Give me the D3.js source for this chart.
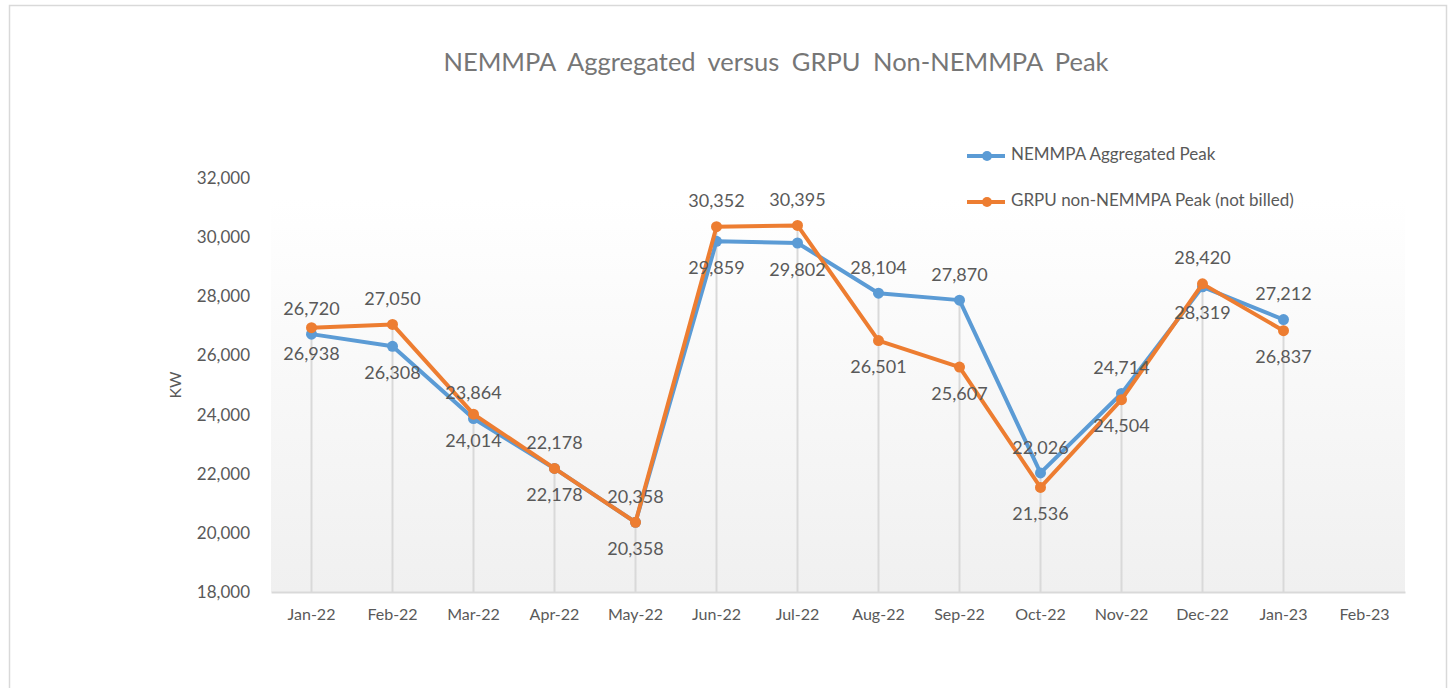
<!DOCTYPE html>
<html>
<head>
<meta charset="utf-8">
<script src="https://cdn.jsdelivr.net/npm/d3@7"></script>
<style>
  html, body { margin: 0; padding: 0; background: #fff; }
  svg { display: block; }
  text { font-family: Lato, "Open Sans", "Liberation Sans", sans-serif; fill: #595959; }
</style>
</head>
<body>
<svg id="chart" width="1455" height="688"></svg>
<script>
// ---- data ----
const categories = ["Jan-22","Feb-22","Mar-22","Apr-22","May-22","Jun-22","Jul-22","Aug-22","Sep-22","Oct-22","Nov-22","Dec-22","Jan-23","Feb-23"];
const nemmpaPeak = [26720, 26308, 23864, 22178, 20358, 29859, 29802, 28104, 27870, 22026, 24714, 28319, 27212];
const grpuPeak   = [26938, 27050, 24014, 22178, 20358, 30352, 30395, 26501, 25607, 21536, 24504, 28420, 26837];
const yTicks = [18000, 20000, 22000, 24000, 26000, 28000, 30000, 32000];
const seriesNames = ["NEMMPA Aggregated Peak", "GRPU non-NEMMPA Peak (not billed)"];
const chartTitle = "NEMMPA Aggregated versus GRPU Non-NEMMPA Peak";
const yAxisTitle = "KW";
// label placement per point for the blue series ("a" above / "b" below); orange takes the opposite
const bluePlacement = ["a","b","a","a","a","b","b","a","a","a","a","b","a"];

const colors = ["#5b9bd5", "#ed7d31"];
const svg = d3.select("#chart");

// outer chart border
svg.append("rect").attr("x", 9.5).attr("y", 5.5).attr("width", 1437).attr("height", 700)
  .attr("fill", "#fff").attr("stroke", "#d9d9d9").attr("stroke-width", 1.5);

const plot = { left: 271, right: 1405, top: 199, bottom: 592 };

const x = d3.scaleBand().domain(categories).range([plot.left, plot.right]);
const y = d3.scaleLinear().domain([18000, 32000]).range([592, 178]);
const cx = c => x(c) + x.bandwidth() / 2;

// gradient plot area
const defs = svg.append("defs");
const grad = defs.append("linearGradient").attr("id", "pg").attr("x1", 0).attr("y1", 0).attr("x2", 0).attr("y2", 1);
grad.append("stop").attr("offset", "0%").attr("stop-color", "#ffffff");
grad.append("stop").attr("offset", "100%").attr("stop-color", "#f0f0f0");
svg.append("rect").attr("x", plot.left).attr("y", plot.top)
  .attr("width", plot.right - plot.left).attr("height", plot.bottom - plot.top)
  .attr("fill", "url(#pg)");

// title
svg.append("text").attr("x", 776).attr("y", 71).attr("text-anchor", "middle")
  .attr("font-size", 25.5).attr("word-spacing", 6).style("fill", "#767676").text(chartTitle);

// y axis (labels only)
const yAxis = d3.axisLeft(y).tickValues(yTicks).tickFormat(d3.format(",")).tickSize(0).tickPadding(0);
const gy = svg.append("g").attr("transform", "translate(250,0)").call(yAxis);
gy.select(".domain").remove();
gy.selectAll("text").attr("font-size", 17).attr("fill", "#595959")
  .style("font-family", "Lato, 'Open Sans', sans-serif");

svg.append("text").attr("transform", "translate(177,385) rotate(-90)")
  .attr("text-anchor", "middle").attr("dominant-baseline", "middle")
  .attr("font-size", 16).text(yAxisTitle);

// x axis
const xAxis = d3.axisBottom(x).tickSize(0).tickPadding(17);
const gx = svg.append("g").attr("transform", `translate(0,${plot.bottom})`).call(xAxis);
gx.select(".domain").attr("stroke", "#d9d9d9").attr("stroke-width", 2);
gx.selectAll("text").attr("font-size", 16).attr("fill", "#595959")
  .style("font-family", "Lato, 'Open Sans', sans-serif");

// drop lines
const maxVals = nemmpaPeak.map((v, i) => Math.max(v, grpuPeak[i]));
svg.append("g").selectAll("line").data(maxVals).join("line")
  .attr("x1", (d, i) => cx(categories[i])).attr("x2", (d, i) => cx(categories[i]))
  .attr("y1", d => y(d)).attr("y2", plot.bottom)
  .attr("stroke", "#d9d9d9").attr("stroke-width", 2);

// series
const series = [nemmpaPeak, grpuPeak];
series.forEach((vals, si) => {
  const line = d3.line().x((d, i) => cx(categories[i])).y(d => y(d));
  svg.append("path").datum(vals).attr("d", line)
    .attr("fill", "none").attr("stroke", colors[si]).attr("stroke-width", 4)
    .attr("stroke-linejoin", "round").attr("stroke-linecap", "round");
  svg.append("g").selectAll("circle").data(vals).join("circle")
    .attr("cx", (d, i) => cx(categories[i])).attr("cy", d => y(d)).attr("r", 5.5)
    .attr("fill", colors[si]);
});

// data labels
series.forEach((vals, si) => {
  svg.append("g").selectAll("text").data(vals).join("text")
    .attr("x", (d, i) => cx(categories[i]))
    .attr("y", (d, i) => {
      const p = si === 0 ? bluePlacement[i] : (bluePlacement[i] === "a" ? "b" : "a");
      return y(d) + (p === "a" ? -24 : 28);
    })
    .attr("text-anchor", "middle").attr("dominant-baseline", "middle")
    .attr("font-size", 18).text(d => d3.format(",")(d));
});

// legend
const legend = svg.append("g");
seriesNames.forEach((name, i) => {
  const ly = 156 + i * 46;
  legend.append("line").attr("x1", 967).attr("x2", 1005).attr("y1", ly).attr("y2", ly)
    .attr("stroke", colors[i]).attr("stroke-width", 4);
  legend.append("circle").attr("cx", 987).attr("cy", ly).attr("r", 5).attr("fill", colors[i]);
  legend.append("text").attr("x", 1011).attr("y", ly).attr("dominant-baseline", "middle")
    .attr("font-size", 17).text(name);
});
</script>
</body>
</html>
